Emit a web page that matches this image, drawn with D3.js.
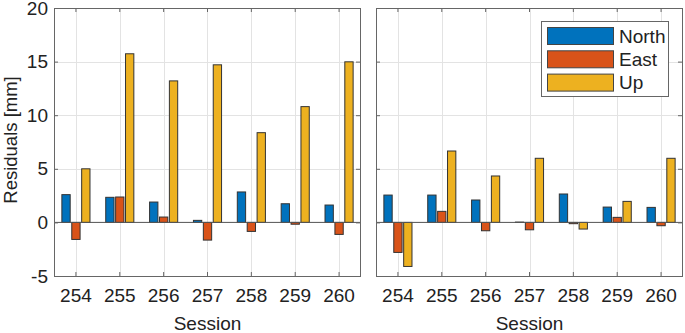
<!DOCTYPE html>
<html>
<head>
<meta charset="utf-8">
<script src="https://cdn.jsdelivr.net/npm/d3@7"></script>
<style>
  body { margin: 0; background: #fff; }
  svg { display: block; font-family: "Liberation Sans", Arial, sans-serif; }
</style>
</head>
<body>
<svg id="chart" width="685" height="333"></svg>
<script>
// sessions on the x axis
var sessions = ["254", "255", "256", "257", "258", "259", "260"];
var series = ["North", "East", "Up"];
var colors = ["#0072BD", "#D95319", "#EDB120"];
var yTicks = [-5, 0, 5, 10, 15, 20];

// left panel residuals [mm]
var leftNorth = [2.59, 2.34, 1.90, 0.19, 2.84, 1.74, 1.62];
var leftEast  = [-1.59, 2.37, 0.50, -1.65, -0.84, -0.17, -1.12];
var leftUp    = [5.0, 15.73, 13.2, 14.7, 8.37, 10.8, 14.98];

// right panel residuals [mm]
var rightNorth = [2.55, 2.55, 2.09, 0.03, 2.65, 1.43, 1.40];
var rightEast  = [-2.8, 1.03, -0.78, -0.69, -0.12, 0.47, -0.31];
var rightUp    = [-4.11, 6.66, 4.33, 5.98, -0.62, 1.96, 5.98];

var svg = d3.select("#chart");
var plotTop = 8, plotBottom = 276;
var fontSize = "19px";

var y = d3.scaleLinear().domain([-5, 20]).range([plotBottom, plotTop]);

function drawPanel(x0, x1, values, showY, showLegend) {
    var x = d3.scaleBand().domain(sessions).range([x0, x1]);
    var groupW = x.step() * 0.677;
    var sub = d3.scaleBand().domain(series)
        .range([-groupW / 2, groupW / 2])
        .paddingInner(0.16).paddingOuter(0.08);

    var g = svg.append("g");

    /* grid lines */
    g.append("g").selectAll("line").data(sessions).enter().append("line")
        .attr("x1", function(d) { return Math.round(x(d) + x.bandwidth() / 2) + 0.5 })
        .attr("x2", function(d) { return Math.round(x(d) + x.bandwidth() / 2) + 0.5 })
        .attr("y1", plotTop).attr("y2", plotBottom)
        .attr("stroke", "#e3e3e3").attr("stroke-width", 1);
    g.append("g").selectAll("line").data(yTicks).enter().append("line")
        .attr("x1", x0).attr("x2", x1)
        .attr("y1", function(d) { return Math.round(y(d)) + 0.5 })
        .attr("y2", function(d) { return Math.round(y(d)) + 0.5 })
        .attr("stroke", "#e3e3e3").attr("stroke-width", 1);

    /* bars */
    var rows = [];
    sessions.forEach(function(s, i) {
        series.forEach(function(k, j) {
            rows.push({ session: s, key: k, color: colors[j], value: values[j][i] });
        });
    });
    g.append("g").selectAll("rect").data(rows).enter().append("rect")
        .attr("x", function(d) { return x(d.session) + x.bandwidth() / 2 + sub(d.key) })
        .attr("width", sub.bandwidth())
        .attr("y", function(d) { return Math.min(y(d.value), y(0)) })
        .attr("height", function(d) { return Math.abs(y(d.value) - y(0)) })
        .attr("fill", function(d) { return d.color })
        .attr("stroke", "#333")
        .attr("stroke-width", 1);

    /* zero baseline */
    g.append("line")
        .attr("x1", x0).attr("x2", x1)
        .attr("y1", y(0)).attr("y2", y(0))
        .attr("stroke", "#555").attr("stroke-width", 1);

    /* axes box with inward ticks */
    var ax = "#666";
    g.append("rect")
        .attr("x", x0 + 0.5).attr("y", plotTop + 0.5)
        .attr("width", x1 - x0 - 1).attr("height", plotBottom - plotTop)
        .attr("fill", "none").attr("stroke", ax).attr("stroke-width", 1);

    var xb = g.append("g").attr("transform", "translate(0," + plotBottom + ")")
        .call(d3.axisBottom(x).tickSizeInner(-4).tickSizeOuter(0).tickPadding(13));
    xb.select(".domain").remove();
    xb.selectAll("line").attr("stroke", ax);
    xb.selectAll("text").attr("fill", "#222").style("font-size", fontSize)
        .style("font-family", "Liberation Sans, Arial, sans-serif");

    var xt = g.append("g").attr("transform", "translate(0," + plotTop + ")")
        .call(d3.axisTop(x).tickSizeInner(-4).tickSizeOuter(0).tickFormat(""));
    xt.select(".domain").remove();
    xt.selectAll("line").attr("stroke", ax);

    var yl = g.append("g").attr("transform", "translate(" + x0 + ",0)")
        .call(d3.axisLeft(y).tickValues(yTicks).tickSizeInner(-4).tickSizeOuter(0)
            .tickPadding(6).tickFormat(showY ? d3.format("d") : ""));
    yl.select(".domain").remove();
    yl.selectAll("line").attr("stroke", ax);
    yl.selectAll("text").attr("fill", "#222").style("font-size", fontSize)
        .style("font-family", "Liberation Sans, Arial, sans-serif")
        .text(function(d) { return showY ? String(d) : "" });

    var yr = g.append("g").attr("transform", "translate(" + (x1 - 1) + ",0)")
        .call(d3.axisRight(y).tickValues(yTicks).tickSizeInner(-4).tickSizeOuter(0).tickFormat(""));
    yr.select(".domain").remove();
    yr.selectAll("line").attr("stroke", ax);

    /* x label */
    g.append("text")
        .attr("x", (x0 + x1) / 2).attr("y", 330)
        .attr("text-anchor", "middle")
        .style("font-size", fontSize).attr("fill", "#222")
        .text("Session");

    if (showLegend) {
        var lg = g.append("g");
        lg.append("rect")
            .attr("x", 541.5).attr("y", 21.5).attr("width", 127).attr("height", 75)
            .attr("fill", "#fff").attr("stroke", ax);
        series.forEach(function(k, j) {
            var cy = 36 + j * 23.3;
            lg.append("rect")
                .attr("x", 547.5).attr("y", cy - 8.5).attr("width", 66).attr("height", 17)
                .attr("fill", colors[j]).attr("stroke", "#444");
            lg.append("text")
                .attr("x", 619).attr("y", cy + 6.8)
                .style("font-size", fontSize).attr("fill", "#222")
                .text(k);
        });
    }
}

drawPanel(54, 361, [leftNorth, leftEast, leftUp], true, false);
drawPanel(376, 683, [rightNorth, rightEast, rightUp], false, true);

/* y label */
svg.append("text")
    .attr("transform", "translate(17," + ((plotTop + plotBottom) / 2 - 2) + ") rotate(-90)")
    .attr("text-anchor", "middle")
    .style("font-size", "18.5px").attr("fill", "#222")
    .text("Residuals [mm]");
</script>
</body>
</html>
